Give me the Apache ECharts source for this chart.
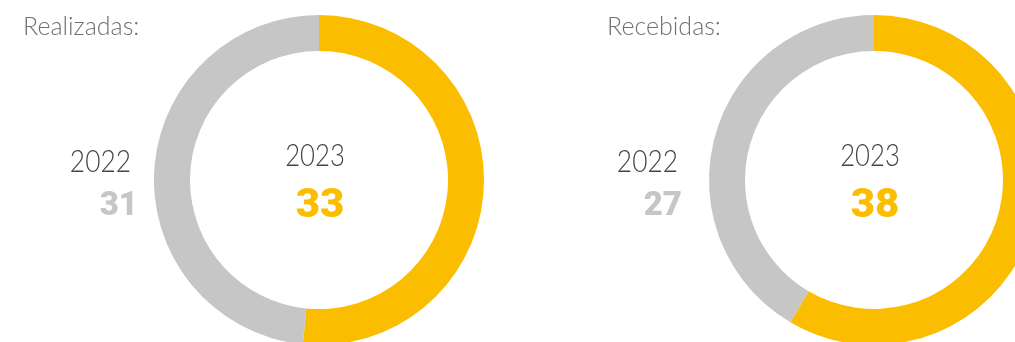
<!DOCTYPE html>
<html>
<head>
<meta charset="utf-8">
<script src="https://cdn.jsdelivr.net/npm/echarts@6/dist/echarts.min.js"></script>
<style>
  html, body { margin: 0; padding: 0; background: #ffffff; }
  #chart { width: 1015px; height: 342px; }
</style>
</head>
<body>
<div id="chart"></div>
<script>
// Panel titles and the two years compared
const panels = ['Realizadas:', 'Recebidas:'];
const years = ['2023', '2022'];
// Values per panel: current year, previous year
const values2023 = [33, 38];
const values2022 = [31, 27];

const YELLOW = '#fbbd00';
const GREY = '#c6c6c6';
const LIGHT = 'Lato, "Open Sans", sans-serif';
const HEAVY = 'Roboto, "Noto Sans", sans-serif';

// Layout of each donut panel
const layout = [
  { cx: 319, cy: 180, titleX: 23, prevX: 131, numX: 138 },
  { cx: 874, cy: 180, titleX: 607, prevX: 678, numX: 682 }
];

const chart = echarts.init(document.getElementById('chart'), null, { renderer: 'canvas' });

const series = panels.map((name, i) => ({
  type: 'pie',
  name: name,
  center: [layout[i].cx, layout[i].cy],
  radius: [129, 165],
  startAngle: 90,
  clockwise: true,
  silent: true,
  label: { show: false },
  labelLine: { show: false },
  emphasis: { disabled: true },
  itemStyle: { borderWidth: 0 },
  data: [
    { name: years[0], value: values2023[i], itemStyle: { color: YELLOW } },
    { name: years[1], value: values2022[i], itemStyle: { color: GREY } }
  ]
}));

// Text element anchored at (x, y), optionally squeezed horizontally
function label(x, y, text, fill, font, align, sx) {
  return {
    type: 'text', silent: true, x: x, y: y,
    scaleX: sx || 1, scaleY: 1,
    style: { x: 0, y: 0, text: text, fill: fill, font: font,
      align: align, verticalAlign: 'top' }
  };
}

const graphics = [];
panels.forEach((name, i) => {
  const L = layout[i];
  graphics.push(
    label(L.titleX, 14, name, '#6f6f6f', '300 25px ' + LIGHT, 'left'),
    label(L.cx - 4, 140, years[0], '#454545', '300 31px ' + LIGHT, 'center', 0.83),
    label(L.cx + 1, 187, String(values2023[i]), YELLOW, '900 40px ' + HEAVY, 'center', 1.05),
    label(L.prevX, 146, years[1], '#454545', '300 31px ' + LIGHT, 'right', 0.85),
    label(L.numX, 190, String(values2022[i]), GREY, '900 33px ' + HEAVY, 'right')
  );
});

chart.setOption({
  animation: false,
  backgroundColor: '#ffffff',
  tooltip: { show: false },
  series: series,
  graphic: graphics
});
</script>
</body>
</html>
